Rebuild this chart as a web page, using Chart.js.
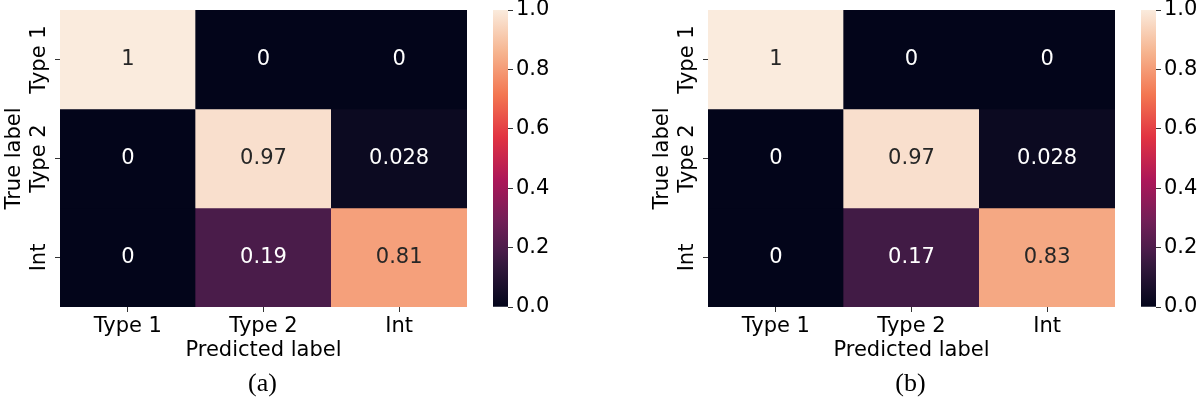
<!DOCTYPE html>
<html>
<head>
<meta charset="utf-8">
<script src="https://cdn.jsdelivr.net/npm/chart.js@4.4.0/dist/chart.umd.min.js"></script>
<style>
  html, body { margin: 0; padding: 0; background: #fff; }
  body { width: 1200px; height: 398px; position: relative; overflow: hidden; }
  .panel { position: absolute; top: 0; width: 600px; height: 398px; }
  .panel canvas { position: absolute; }
  .caption { position: absolute; top: 369px; width: 525px; left: 0; font: 26px 'Liberation Serif', serif; line-height: 28px; text-align: center; color: #000; }
</style>
</head>
<body>
<div class="panel" style="left:0">
  <canvas id="heat-a" width="470" height="398" style="left:0;top:0"></canvas>
  <canvas id="bar-a" width="100" height="418" style="left:480px;top:-20px"></canvas>
  <div class="caption">(a)</div>
</div>
<div class="panel" style="left:648px">
  <canvas id="heat-b" width="470" height="398" style="left:0;top:0"></canvas>
  <canvas id="bar-b" width="100" height="418" style="left:480px;top:-20px"></canvas>
  <div class="caption">(b)</div>
</div>
<script>
// Data
const predictedLabels = ['Type 1', 'Type 2', 'Int'];
const trueLabels = ['Type 1', 'Type 2', 'Int'];
const matrixA = [
  [1, 0, 0],
  [0, 0.97, 0.028],
  [0, 0.19, 0.81]
];
const matrixB = [
  [1, 0, 0],
  [0, 0.97, 0.028],
  [0, 0.17, 0.83]
];
const colorbarTicks = [0, 0.2, 0.4, 0.6, 0.8, 1.0];

// seaborn "rocket" colormap, sampled
const rocketStops = [
  [0, '#03051a'],
  [0.03, '#0d0a22'],
  [1 / 7, '#35193e'],
  [0.19, '#4a1c4a'],
  [2 / 7, '#701f57'],
  [3 / 7, '#ad1759'],
  [4 / 7, '#e13342'],
  [5 / 7, '#f37651'],
  [6 / 7, '#f6b48f'],
  [1, '#faebdd']
];

Chart.defaults.font.family = "'DejaVu Sans', sans-serif";
Chart.defaults.color = '#000';

function hexToRgb(h) {
  return [parseInt(h.slice(1, 3), 16), parseInt(h.slice(3, 5), 16), parseInt(h.slice(5, 7), 16)];
}

function rocketRgb(v) {
  for (let i = 1; i < rocketStops.length; i++) {
    const [p1, c1] = rocketStops[i];
    const [p0, c0] = rocketStops[i - 1];
    if (v <= p1) {
      const t = (v - p0) / (p1 - p0);
      const a = hexToRgb(c0), b = hexToRgb(c1);
      return a.map((x, k) => Math.round(x + (b[k] - x) * t));
    }
  }
  return hexToRgb(rocketStops[rocketStops.length - 1][1]);
}

function rocket(v) {
  const c = rocketRgb(v);
  return `rgb(${c[0]},${c[1]},${c[2]})`;
}

function textColorFor(v) {
  const lum = rocketRgb(v).map(x => {
    x /= 255;
    return x <= 0.03928 ? x / 12.92 : Math.pow((x + 0.055) / 1.055, 2.4);
  });
  const l = 0.2126 * lum[0] + 0.7152 * lum[1] + 0.0722 * lum[2];
  return l > 0.408 ? '#262626' : '#ffffff';
}

// draws the annotation in the middle of each cell
const cellLabels = {
  id: 'cellLabels',
  afterDatasetsDraw(chart) {
    const ctx = chart.ctx;
    ctx.save();
    ctx.font = "21px 'DejaVu Sans'";
    ctx.textAlign = 'center';
    ctx.textBaseline = 'middle';
    chart.data.datasets.forEach((ds, di) => {
      chart.getDatasetMeta(di).data.forEach((bar, i) => {
        const v = ds.values[i];
        ctx.fillStyle = textColorFor(v);
        ctx.fillText(String(v), bar.x, (bar.y + bar.base) / 2);
      });
    });
    ctx.restore();
  }
};

function makeHeatmap(id, matrix) {
  const datasets = matrix.map((row, r) => ({
    data: row.map(() => [r, r + 1]),
    values: row,
    backgroundColor: row.map(v => rocket(v)),
    borderWidth: 0,
    barPercentage: 1,
    categoryPercentage: 1,
    grouped: false
  }));

  return new Chart(document.getElementById(id), {
    type: 'bar',
    data: { labels: predictedLabels, datasets: datasets },
    options: {
      responsive: false,
      animation: false,
      layout: { padding: { left: 0, top: 10, right: 3, bottom: 31 } },
      plugins: { legend: { display: false }, tooltip: { enabled: false } },
      scales: {
        x: {
          grid: { offset: false, drawOnChartArea: false, tickLength: 5, color: '#333' },
          border: { display: false },
          ticks: { font: { size: 21 }, padding: 2, color: '#000', maxRotation: 0 },
          title: { display: true, text: 'Predicted label', font: { size: 21 }, padding: { top: 3 }, color: '#000' },
          afterFit: s => { s.height = 60; }
        },
        y: {
          type: 'linear',
          min: 0,
          max: 3,
          reverse: true,
          grid: { drawOnChartArea: false, tickLength: 5, color: '#333' },
          border: { display: false },
          afterBuildTicks: s => { s.ticks = trueLabels.map((_, i) => ({ value: i + 0.5 })); },
          ticks: {
            autoSkip: false,
            minRotation: 90,
            maxRotation: 90,
            crossAlign: 'center',
            padding: -19,
            font: { size: 21 },
            color: '#000',
            callback: v => trueLabels[Math.floor(v)]
          },
          title: { display: true, text: 'True label', font: { size: 21 }, padding: { top: 2 }, color: '#000' },
          afterFit: s => { s.width = 60; }
        }
      }
    },
    plugins: [cellLabels]
  });
}

function makeColorbar(id) {
  return new Chart(document.getElementById(id), {
    type: 'bar',
    data: {
      labels: [''],
      datasets: [{
        data: [[0, 1]],
        borderWidth: 0,
        barPercentage: 1,
        categoryPercentage: 1,
        backgroundColor: ctx => {
          const area = ctx.chart.chartArea;
          if (!area) return rocket(0.5);
          const g = ctx.chart.ctx.createLinearGradient(0, area.bottom, 0, area.top);
          rocketStops.forEach(([p, c]) => g.addColorStop(p, c));
          return g;
        }
      }]
    },
    options: {
      responsive: false,
      animation: false,
      layout: { padding: { left: 13, top: 30, right: 0, bottom: 91 } },
      plugins: { legend: { display: false }, tooltip: { enabled: false } },
      scales: {
        x: { display: false },
        y: {
          position: 'right',
          min: 0,
          max: 1,
          grid: { drawOnChartArea: false, tickLength: 5, color: '#333' },
          border: { display: false },
          afterBuildTicks: s => { s.ticks = colorbarTicks.map(v => ({ value: v })); },
          ticks: { font: { size: 21 }, padding: 3, color: '#000', callback: v => v.toFixed(1) },
          afterFit: s => { s.width = 72; }
        }
      }
    }
  });
}

makeHeatmap('heat-a', matrixA);
makeColorbar('bar-a');
makeHeatmap('heat-b', matrixB);
makeColorbar('bar-b');
</script>
</body>
</html>
